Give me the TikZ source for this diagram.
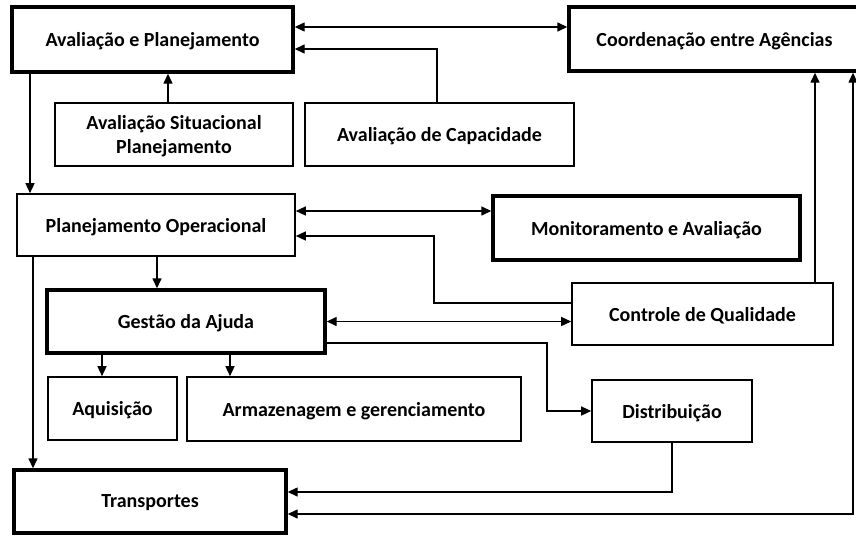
\documentclass[tikz,border=0pt]{standalone}
\usepackage{fontspec}
\setmainfont{Carlito}
\usetikzlibrary{arrows.meta}
\begin{document}
\begin{tikzpicture}[x=1pt,y=-1pt,
  box/.style={draw=black,line width=1.6pt,fill=white,inner sep=0pt,align=center,
    text depth=0pt,font=\bfseries\fontsize{20}{24}\selectfont},
  thickbox/.style={box,line width=3.4pt},
  conn/.style={line width=1.4pt,{Triangle[length=10pt,width=9pt]}-{Triangle[length=10pt,width=9pt]}},
  toarr/.style={line width=1.4pt,-{Triangle[length=10pt,width=9pt]}}]
\useasboundingbox[fill=white] (0,0) rectangle (856,536);
% boxes
\node[thickbox,minimum width=281pt,minimum height=65pt] (aep) at (152.5,39.5) {Avaliação e Planejamento};
\node[thickbox,minimum width=291pt,minimum height=64pt] (coord) at (714.5,39) {Coordenação entre Agências};
\node[box,minimum width=238pt,minimum height=63pt] (sit) at (174,134.5) {Avaliação Situacional\\Planejamento};
\node[box,minimum width=269pt,minimum height=63pt] (cap) at (439.5,134.5) {Avaliação de Capacidade};
\node[box,minimum width=278pt,minimum height=62pt] (po) at (156,225) {Planejamento Operacional};
\node[thickbox,minimum width=307pt,minimum height=64pt] (mon) at (646.5,228) {Monitoramento e Avaliação};
\node[thickbox,minimum width=278pt,minimum height=63pt] (gest) at (186,321.5) {Gestão da Ajuda};
\node[box,minimum width=261pt,minimum height=62pt] (cq) at (702.5,314) {Controle de Qualidade};
\node[box,minimum width=129pt,minimum height=63pt] (aq) at (112.5,408.5) {Aquisição};
\node[box,minimum width=334pt,minimum height=64pt] (arm) at (354,409) {Armazenagem e gerenciamento};
\node[box,minimum width=160pt,minimum height=62pt] (dist) at (672,411) {Distribuição};
\node[thickbox,minimum width=272pt,minimum height=63pt] (trans) at (150,501.5) {Transportes};
% helper columns
\coordinate (x30) at (30,0);
\coordinate (x33) at (33,0);
\coordinate (x102) at (102,0);
\coordinate (x157) at (157,0);
\coordinate (x230) at (230,0);
\coordinate (x434) at (434,0);
\coordinate (x547) at (547,0);
\coordinate (x815) at (815,0);
\coordinate (x853) at (853,0);
% connectors
\draw[conn] ([yshift=12.5pt]aep.east) -- ([yshift=12.5pt]aep.east -| coord.west);
\draw[toarr] ([xshift=-2.5pt]cap.north) |- ([yshift=-9.5pt]aep.east);
\draw[toarr] ([xshift=-6pt]sit.north) -- ([xshift=-6pt]sit.north |- aep.south);
\draw[toarr] (aep.south -| x30) -- (po.north -| x30);
\draw[conn] ([yshift=14pt]po.east) -- ([yshift=14pt]po.east -| mon.west);
\draw[toarr] ([yshift=11pt]cq.west) -| ([yshift=-11pt]po.east -| x434) -- ([yshift=-11pt]po.east);
\draw[conn] (gest.east) -- (gest.east -| cq.west);
\draw[toarr] ([yshift=-21.5pt]gest.east) -| (dist.west -| x547) -- (dist.west);
\draw[toarr] (po.south -| x157) -- (gest.north -| x157);
\draw[toarr] (gest.south -| x102) -- (aq.north -| x102);
\draw[toarr] (gest.south -| x230) -- (arm.north -| x230);
\draw[toarr] (po.south -| x33) -- (trans.north -| x33);
\draw[toarr] (dist.south) |- ([yshift=9.5pt]trans.east);
\draw[toarr] (cq.north -| x815) -- (coord.south -| x815);
\draw[conn] ([yshift=-12.5pt]trans.east) -| (coord.south -| x853);
\end{tikzpicture}
\end{document}
